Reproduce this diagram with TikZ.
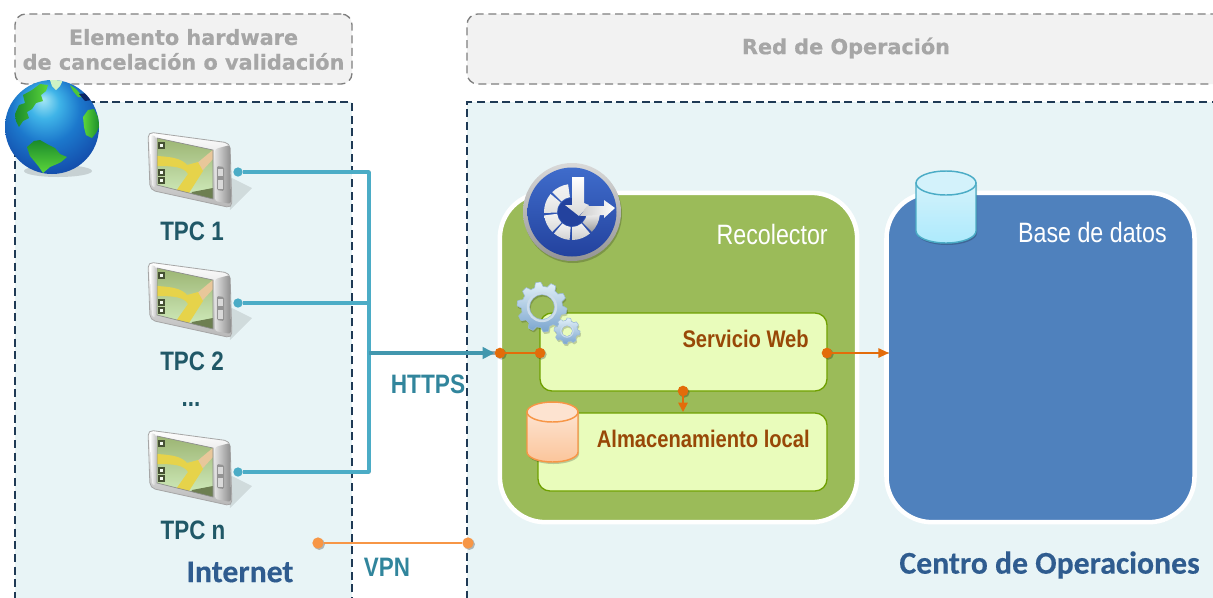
\documentclass[tikz,border=0pt]{standalone}
\usepackage{fontspec}
\setmainfont{Liberation Sans}
\newfontfamily\dejab{DejaVu Sans}[BoldFont={DejaVu Sans Bold},BoldFeatures={FakeBold=0.6}]
\newfontfamily\carl{Carlito}[BoldFeatures={FakeBold=0.3}]
\usetikzlibrary{arrows.meta,shadows,calc}
\definecolor{zonefill}{HTML}{E8F4F6}
\definecolor{zonedash}{HTML}{1F3A55}
\definecolor{greyfill}{HTML}{F2F2F2}
\definecolor{greydash}{HTML}{7F7F7F}
\definecolor{greytext}{HTML}{A6A6A6}
\definecolor{recol}{HTML}{9BBB59}
\definecolor{basedb}{HTML}{4F81BD}
\definecolor{inner}{HTML}{E9FCBB}
\definecolor{innerline}{HTML}{6FA000}
\definecolor{brown}{HTML}{984807}
\definecolor{teal}{HTML}{4BACC6}
\definecolor{tealdark}{HTML}{205867}
\definecolor{tealtext}{HTML}{31859C}
\definecolor{orangedk}{HTML}{E36C0A}
\definecolor{orangelt}{HTML}{F79646}
\definecolor{navy}{HTML}{2F5C8F}
\definecolor{gearhi}{HTML}{E2F0F8}
\definecolor{gearlo}{HTML}{7AA5CE}
\definecolor{gearln}{HTML}{9ABAD6}
\definecolor{clocktop}{HTML}{3F6CCB}
\definecolor{clockbot}{HTML}{23429E}
\definecolor{gloc}{HTML}{A8E8F5}
\definecolor{glod}{HTML}{3FB4E8}
\definecolor{gloe}{HTML}{1C78CC}
\definecolor{glof}{HTML}{1450AE}
\definecolor{glog}{HTML}{0E3590}
\definecolor{lando}{HTML}{5CD63A}
\definecolor{landd}{HTML}{1A8A2C}
\definecolor{orcyla}{HTML}{FDE3D0}
\definecolor{orcylb}{HTML}{FBC59B}
\definecolor{blcyla}{HTML}{D3F2FB}
\definecolor{blcylb}{HTML}{ADEAFC}
\definecolor{scrtop}{HTML}{9CB573}
\definecolor{scrbot}{HTML}{D2EDBE}
\definecolor{roadyl}{HTML}{E6D34A}
\definecolor{roador}{HTML}{E8C79A}
\pgfdeclareradialshading{globeshade}{\pgfpoint{-5bp}{15bp}}{color(0bp)=(gloc);color(8bp)=(glod);color(18bp)=(gloe);color(30bp)=(glof);color(42bp)=(glog);color(50bp)=(glog)}
\newcommand{\tx}[2]{\scalebox{#1}[1]{#2}}
\newcommand{\gearicon}[6]{%
  \begin{scope}[shift={(#1,#2)}]
    \fill[black,opacity=.18,even odd rule,shift={(1,2)}] plot[samples=#5*12+1,domain=0:360] (\x:{#3-#3*.09+#3*.09*min(1,max(-1,3*sin(#5*\x+#6)))}) -- cycle (0,0) circle (#4);
    \shade[top color=gearhi,bottom color=gearlo,even odd rule,draw=gearln,line width=.4pt] plot[samples=#5*12+1,domain=0:360] (\x:{#3-#3*.09+#3*.09*min(1,max(-1,3*sin(#5*\x+#6)))}) -- cycle (0,0) circle (#4);
    \draw[gearln!50!white,line width=#4*.14pt] (0,0) circle (#4*1.12);
  \end{scope}}
\newcommand{\cyl}[8]{% x1 x2 ytop ybot ry top bottom line
  \fill[black,opacity=.2] (#1+1,#3+#5+2) -- (#1+1,#4-#5+2) arc[start angle=180,end angle=0,x radius={(#2-#1)/2},y radius=#5] -- (#2+1,#3+#5+2) -- cycle;
  \shade[top color=#6,bottom color=#7,draw=#8,line width=1.1pt] (#1,#3+#5) -- (#1,#4-#5) arc[start angle=180,end angle=0,x radius={(#2-#1)/2},y radius=#5] -- (#2,#3+#5) -- cycle;
  \fill[#6,draw=#8,line width=1.1pt] ({(#1+#2)/2},#3+#5) ellipse[x radius={(#2-#1)/2},y radius=#5];}
\tikzset{
  zone/.style={draw=zonedash,fill=zonefill,dash pattern=on 6pt off 3.5pt,line width=1pt,inner sep=0,outer sep=0},
  greybox/.style={draw=greydash,fill=greyfill,dash pattern=on 6pt off 3.5pt,line width=1pt,rounded corners=8pt,inner sep=0,outer sep=0},
  panel/.style={draw=white,line width=3.4pt,rounded corners=34pt,inner sep=0,outer sep=0,drop shadow={shadow xshift=.8pt,shadow yshift=-1.2pt,opacity=.25,fill=black}},
  subbox/.style={draw=innerline,fill=inner,line width=1pt,rounded corners=9pt,inner sep=0,outer sep=0},
  dotor/.style={circle,fill=orangedk,minimum size=8pt,inner sep=0,outer sep=0,drop shadow={shadow xshift=1pt,shadow yshift=-1pt,opacity=.25,fill=black}},
  dotlt/.style={circle,fill=orangelt,minimum size=8.5pt,inner sep=0,outer sep=0,drop shadow={shadow xshift=1pt,shadow yshift=-1pt,opacity=.25,fill=black}},
  dottl/.style={circle,fill=teal,minimum size=7pt,inner sep=0,outer sep=0},
  tealline/.style={draw=teal,line width=2.8pt,line join=round},
  tealshadow/.style={draw=black,opacity=.15,line width=3pt,line join=round},
  orline/.style={draw=orangedk,line width=1.3pt},
  lbltpc/.style={inner sep=0,text=tealdark,font=\fontsize{20}{20}\selectfont\bfseries},
  lblnet/.style={inner sep=0,text=tealtext,font=\fontsize{20}{20}\selectfont\bfseries},
  lblgrey/.style={inner sep=0,text=greytext,align=center,font=\fontsize{15.6}{18.6}\selectfont\dejab\bfseries},
  lblzone/.style={inner sep=0,text=navy,font=\fontsize{23.8}{24}\selectfont\carl\bfseries},
  lblwhite/.style={inner sep=0,text=white,font=\fontsize{21}{21}\selectfont},
  lblbrown/.style={inner sep=0,text=brown,font=\fontsize{18}{18}\selectfont\bfseries},
  device/.pic={
    \fill[black,opacity=.10] (38,8) -- (62,20) -- (40,42) -- cycle;
    \shade[top color=white,bottom color=black!28,draw=black!35,line width=.6pt,rounded corners=4pt]
      (-42,-36) -- (40,-25) -- (42,40) -- (-40,22) -- cycle;
    \shade[left color=white,right color=black!22,rounded corners=2pt] (-40,-33) -- (-34,-32) -- (-34,19) -- (-38,19) -- cycle;
    \shade[left color=black!12,right color=black!45,rounded corners=2pt] (25,-19) -- (40,-23) -- (41,36) -- (25,33) -- cycle;
    \begin{scope}
      \clip (-33,-30) -- (23,-18) -- (23,31) -- (-33,17) -- cycle;
      \shade[top color=scrtop,bottom color=scrbot] (-33,-30) rectangle (23,31);
      \fill[black!30!scrtop] (2,24) -- (23,20) -- (23,31) -- (0,28) -- cycle;
      \fill[roador] (6,-4) -- (24,-19) -- (24,-10) -- (12,3) -- cycle;
      \fill[roadyl] (-33,-12) .. controls (-16,-11) and (-8,-9) .. (-3,-3) -- (8,-6) -- (13,3) -- (-1,25) -- (-14,23) -- (-2,6) .. controls (-6,-1) and (-16,-2) .. (-33,-2) -- cycle;
      \fill[black!55!scrtop] (-32,-26) rectangle (-25,-19);
      \fill[white!80!scrbot] (-30,-24) rectangle (-27,-21);
      \fill[black!55!scrtop] (-32,1) rectangle (-25,8);
      \fill[white!80!scrbot] (-30,3) rectangle (-27,6);
      \fill[black!55!scrtop] (-32,9) rectangle (-25,16);
      \fill[white!80!scrbot] (-30,11) rectangle (-27,14);
    \end{scope}
    \draw[black!45,line width=.5pt] (-33,-30) -- (23,-18) -- (23,31) -- (-33,17) -- cycle;
    \fill[black!42,rounded corners=1pt] (27,-2) -- (34,-1) -- (34,23) -- (27,22) -- cycle;
    \fill[black!15] (28,1) rectangle (33,8);
    \fill[black!15] (28,12) rectangle (33,21);
  },
  globe/.pic={
    \fill[black,opacity=.14] (6,44) ellipse[x radius=34,y radius=6];
    \begin{scope}
      \clip (0,0) circle (47);
      \shade[shading=globeshade] (-47,-47) rectangle (47,47);
      \shade[left color=landd,right color=lando] (-37,-13) -- (-33,-22) -- (-27,-24) -- (-29,-32) -- (-20,-37) -- (-12,-43) -- (-4,-42) -- (-6,-36) -- (-11,-32) -- (-9,-26) -- (-16,-24) -- (-20,-18) -- (-25,-15) -- (-23,-9) -- (-29,-6) -- (-33,0) -- (-36,-6) -- cycle;
      \shade[top color=landd,bottom color=lando] (-25,20) -- (-18,14) -- (-12,13) -- (-5,17) -- (3,21) -- (8,27) -- (15,30) -- (9,35) -- (5,37) -- (-2,40) -- (-9,46) -- (-13,40) -- (-17,35) -- (-22,29) -- cycle;
      \shade[left color=lando,right color=landd] (31,-10) -- (36,-17) -- (42,-18) -- (46,-10) -- (48,-2) -- (44,6) -- (40,11) -- (34,8) -- (32,0) -- cycle;
      \fill[white!70!lando] (-2,-47) -- (11,-47) -- (8,-41) -- (4,-37) -- (0,-41) -- cycle;
      \fill[lando!80!landd] (18,-42) -- (24,-38) -- (31,-30) -- (26,-30) -- (21,-36) -- cycle;
      \fill[glog!70!black] (27,-33) -- (36,-34) -- (40,-27) -- (33,-26) -- cycle;
    \end{scope}
  },
  clockicon/.pic={
    \fill[black,opacity=.2] (1,2) circle (49);
    \shade[top color=black!15,bottom color=black!42] (0,0) circle (49);
    \shade[top color=clocktop,bottom color=clockbot] (0,0) circle (44.5);
    \foreach \a/\b/\c in {225/262/white!92!black,178/220/white!88!black,135/173/white!85!black,95/130/white!82!black,50/90/white!80!black,5/45/black!40} {
      \shade[top color=white!95!black,bottom color=\c,draw=none] (\a:15) -- (\a:28) arc[start angle=\a,end angle=\b,radius=28] -- (\b:15) arc[start angle=\b,end angle=\a,radius=15] -- cycle;
    }
    \fill[clockbot] (0,0) circle (14);
    \shade[top color=white,bottom color=black!15] (0,-35) -- (12,-35) -- (12,-9) -- (17,-7) -- (7,4) -- (-7,-7) -- (0,-7) -- cycle;
    \shade[left color=black!20,right color=white] (15,-6) -- (32,-6) -- (32,-12) -- (43,-4) -- (32,6) -- (32,3) -- (8,4) -- cycle;
  }
}
\begin{document}
\begin{tikzpicture}[x=0.75pt,y=-0.75pt]
\useasboundingbox (0,0) rectangle (1213,597);
\clip (0,0) rectangle (1213,597);
\fill[white] (0,0) rectangle (1213,597);
% header boxes
\node[greybox,minimum width=252.75pt,minimum height=52.5pt] (hwbox) at (183.5,49) {};
\node[greybox,minimum width=600pt,minimum height=52.5pt,anchor=west] (redbox) at (467,49) {};
% zones
\node[zone,minimum width=252.75pt,minimum height=400pt,anchor=north west] (inet) at (15,102) {};
\node[zone,minimum width=600pt,minimum height=400pt,anchor=north west] (centro) at (467,102) {};
\node[lblgrey] (hwtxt) at (183.5,49.5) {Elemento hardware\\de cancelación o validación};
\node[lblgrey] (redtxt) at (846,48) {Red de Operación};
% panels
\node[panel,fill=recol,minimum width=268pt,minimum height=247pt] (recolector) at (678.5,357.5) {};
\node[panel,fill=basedb,minimum width=231pt,minimum height=247pt] (bd) at (1040.5,357.5) {};
\node[subbox,minimum width=215.25pt,minimum height=58.5pt] (servicio) at (683.5,352) {};
\node[subbox,minimum width=216.75pt,minimum height=58.5pt] (almacen) at (682.5,452) {};
% labels in panels
\node[lblwhite,anchor=east] (rectxt) at (828,234) {\tx{.83}{Recolector}};
\node[lblwhite,anchor=east] (bdtxt) at (1167,232) {\tx{.83}{Base de datos}};
\node[lblbrown,anchor=east] (srvtxt) at (809,339) {\tx{.84}{Servicio Web}};
\node[lblbrown,anchor=east] (almtxt) at (810,439) {\tx{.84}{Almacenamiento local}};
% icons
\pic at (52,127) {globe};
\pic at (190,168) {device};
\pic at (190,298) {device};
\pic at (190,466) {device};
\pic at (572,212) {clockicon};
\gearicon{542}{307}{25}{12.5}{10}{0}
\gearicon{567}{331}{13}{5.5}{8}{20}
\cyl{527}{578}{402}{462}{10}{orcyla}{orcylb}{orangelt}
\cyl{916}{976}{171}{243}{12}{blcyla}{blcylb}{teal}
% text
\node[lbltpc] (t1) at (192,231) {\tx{.84}{TPC 1}};
\node[lbltpc] (t2) at (192,361) {\tx{.84}{TPC 2}};
\node[lbltpc] (t3) at (191,405) {\tx{.84}{...}};
\node[lbltpc] (t4) at (193,530) {\tx{.84}{TPC n}};
\node[lblzone] (inettxt) at (240,572) {Internet};
\node[lblzone,anchor=east] (centxt) at (1200,565) {Centro de Operaciones};
\node[lblnet] (https) at (428,384) {\tx{.85}{HTTPS}};
\node[lblnet] (vpn) at (387,567) {\tx{.84}{VPN}};
% endpoints
\node[dottl] (d1) at (238,172) {};
\node[dottl] (d2) at (238,303) {};
\node[dottl] (d3) at (238,472) {};
\coordinate (bus1) at (369,172);
\coordinate (bus2) at (369,303);
\coordinate (bus3) at (369,472);
\coordinate (j) at (369,353);
\node[dotor] (in1) at (500,353) {};
\node[dotor] (in2) at (540,353) {};
\node[dotor] (out1) at (827,353) {};
\node[dotor] (dn1) at (683,391) {};
\coordinate (bdin) at (889,353);
\coordinate (almin) at (683,412);
\node[dotlt] (v1) at (318,543) {};
\node[dotlt] (v2) at (468,543) {};
% teal connectors
\draw[tealshadow,shift={(1,2)}] (d1) -- (bus1) -- (bus3) -- (d3);
\draw[tealshadow,shift={(1,2)}] (d2) -- (bus2);
\draw[tealline] (d1) -- (bus1) -- (bus3) -- (d3);
\draw[tealline] (d2) -- (bus2);
\draw[draw=black!55,opacity=.6,line width=3.2pt,shift={(0,3)}] (j) -- (in1);
\draw[draw=teal!88!black,line width=3.2pt,-{Triangle[length=9pt,width=8.5pt]}] (j) -- (in1);
% orange connectors
\draw[draw=black,opacity=.2,line width=1.3pt,shift={(1,3)}] (in1) -- (in2);
\draw[orline] (in1) -- (in2);
\draw[draw=black,opacity=.2,line width=1.3pt,shift={(1,3)}] (out1) -- (bdin);
\draw[orline,-{Triangle[length=8pt,width=7pt]}] (out1) -- (bdin);
\draw[orline,-{Triangle[length=7pt,width=7pt]}] (dn1) -- (almin);
\draw[draw=black,opacity=.2,line width=1.3pt,shift={(1,3)}] (v1) -- (v2);
\draw[draw=orangelt,line width=1.5pt] (v1) -- (v2);
\end{tikzpicture}
\end{document}
